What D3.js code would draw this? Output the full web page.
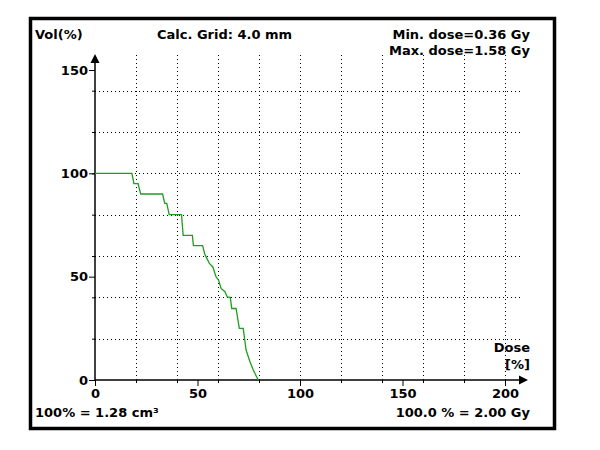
<!DOCTYPE html>
<html><head><meta charset="utf-8">
<script src="https://cdn.jsdelivr.net/npm/d3@7"></script>
<style>body{margin:0;background:#fff}text{font-family:"DejaVu Sans",sans-serif;font-weight:bold;font-size:13px;fill:#000}</style>
</head><body>
<svg id="c" width="600" height="450"></svg>
<script>
const dose = [0,18,19,21,22.3,33,34,35,36.2,42.2,43,47.5,48,52.5,53.5,55,55.8,57.5,59,60.3,61.5,63.4,64.5,66,66.7,68.8,70.4,72.3,73.7,75.6,77.2,79.1,79.7];
const vol  = [100,100,95,95,90,90,85.5,85.5,80,80,70,70,65,65,61,58,56.4,54.7,50,48.3,44.3,42.7,40.2,40,34.6,34.6,25,25,14.5,8.8,4.8,1,0];
const xTicks = [0,50,100,150,200];
const yTicks = [0,50,100,150];
const xGrid = [20,40,60,80,100,120,140,160,180,200];
const yGrid = [20,40,60,80,100,120,140];

const svg = d3.select("#c");
const x = d3.scaleLinear().domain([0,200]).range([95,505]);
const y = d3.scaleLinear().domain([0,150]).range([380,70]);

svg.append("rect").attr("x",30.5).attr("y",18.5).attr("width",524).attr("height",410)
  .attr("fill","#fff").attr("stroke","#000").attr("stroke-width",3.5);

// grid
svg.append("g").selectAll("line").data(yGrid).join("line")
  .attr("x1",x(0)).attr("x2",521).attr("y1",d=>Math.round(y(d))+0.5).attr("y2",d=>Math.round(y(d))+0.5)
  .attr("stroke","#000").attr("stroke-dasharray","1,3");
svg.append("g").selectAll("line").data(xGrid).join("line")
  .attr("y1",y(0)).attr("y2",53).attr("x1",d=>Math.round(x(d))+0.5).attr("x2",d=>Math.round(x(d))+0.5)
  .attr("stroke","#000").attr("stroke-dasharray","1,3");

const fnt = g => g.selectAll("text").style("font-size","13px").style("font-family","DejaVu Sans").style("font-weight","bold");
// axes
const xa = d3.axisBottom(x).tickValues(xTicks).tickSize(6).tickPadding(3).tickFormat(d3.format("d"));
const gx = svg.append("g").attr("transform",`translate(0,${y(0)})`).call(xa);
gx.select(".domain").remove(); fnt(gx);
const xm = d3.axisBottom(x).tickValues(xGrid).tickSize(3).tickFormat("");
svg.append("g").attr("transform",`translate(0,${y(0)})`).call(xm).select(".domain").remove();

const ya = d3.axisLeft(y).tickValues(yTicks).tickSize(6).tickPadding(1).tickFormat(d3.format("d"));
const gy = svg.append("g").attr("transform",`translate(${x(0)},0)`).call(ya);
gy.select(".domain").remove(); fnt(gy);
const ym = d3.axisLeft(y).tickValues(yGrid).tickSize(3).tickFormat("");
svg.append("g").attr("transform",`translate(${x(0)},0)`).call(ym).select(".domain").remove();

// axis lines with arrows
svg.append("line").attr("x1",x(0)).attr("x2",x(0)).attr("y1",y(0)).attr("y2",60).attr("stroke","#000").attr("stroke-width",1.5);
svg.append("path").attr("d",`M${x(0)-4.5},${63}L${x(0)},${54}L${x(0)+4.5},${63}Z`).attr("fill","#000");
svg.append("line").attr("x1",x(0)).attr("x2",520).attr("y1",y(0)).attr("y2",y(0)).attr("stroke","#000").attr("stroke-width",1.5);
svg.append("path").attr("d",`M${519},${y(0)-4.5}L${528},${y(0)}L${519},${y(0)+4.5}Z`).attr("fill","#000");

// curve
svg.append("path").datum(dose.map((d,i)=>[d,vol[i]]))
  .attr("d",d3.line().x(d=>x(d[0])).y(d=>y(d[1])))
  .attr("fill","none").attr("stroke","#1e9e1e").attr("stroke-width",1.3);

// labels
const t=(tx,ty,s,a)=>svg.append("text").attr("x",tx).attr("y",ty).attr("text-anchor",a||"start").text(s);
t(35,39,"Vol(%)");
t(157,39,"Calc. Grid: 4.0 mm");
t(530,39,"Min. dose=0.36 Gy","end");
t(530,55,"Max. dose=1.58 Gy","end");
t(530,352,"Dose","end");
t(530,369,"[%]","end");
t(35,417,"100% = 1.28 cm\u00b3");
t(530,417,"100.0 % = 2.00 Gy","end");
</script>
</body></html>
